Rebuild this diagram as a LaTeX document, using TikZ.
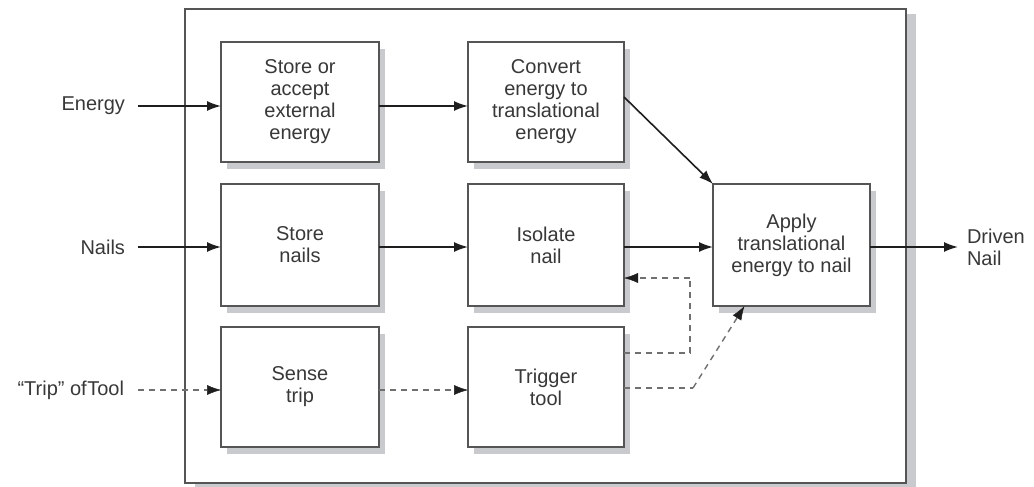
\documentclass[tikz,border=0pt]{standalone}
\usepackage{fontspec}
\setmainfont{Liberation Sans}
\usetikzlibrary{arrows.meta,shadows,calc}
\definecolor{boxline}{HTML}{555555}
\definecolor{shade}{HTML}{C9CACD}
\definecolor{inkc}{HTML}{1E1E1E}
\definecolor{dashc}{HTML}{707070}
\tikzset{
  stepbox/.style={draw=boxline, line width=1.5pt, fill=white, inner sep=0pt, outer sep=0pt,
    align=center, font=\fontsize{20}{22}\selectfont, text=black!78,
    drop shadow={shadow xshift=6pt, shadow yshift=-7pt, fill=shade, opacity=1}},
  lbl/.style={inner sep=0pt, outer sep=0pt, font=\fontsize{20}{22}\selectfont, text=black!78, align=left},
  arr/.style={draw=inkc, line width=1.6pt, -{Latex[length=14pt,width=10pt]}},
  darr/.style={draw=dashc, line width=1.4pt, dash pattern=on 6pt off 5pt, -{Latex[length=14pt,width=10pt,color=inkc,line width=0.5pt]}},
  dline/.style={draw=dashc, line width=1.4pt, dash pattern=on 6pt off 5pt},
}
\begin{document}
\begin{tikzpicture}[x=1pt,y=-1pt]
\useasboundingbox (0,0) rectangle (1034,487);
% outer frame
\node[draw=boxline, line width=1.7pt, fill=white, inner sep=0pt, minimum width=721pt, minimum height=474pt,
  general shadow={shadow xshift=10pt, shadow yshift=-5pt, fill=shade, opacity=1}] (frame) at (545.5,246) {};
% boxes
\node[stepbox, minimum width=158pt, minimum height=120pt] (b1) at (300,102) {Store or\\accept\\external\\energy};
\node[stepbox, minimum width=156pt, minimum height=120pt] (b2) at (546,102) {Convert\\energy to\\translational\\energy};
\node[stepbox, minimum width=158pt, minimum height=122pt] (b3) at (300,245) {Store\\nails};
\node[stepbox, minimum width=156pt, minimum height=122pt] (b4) at (546,245) {Isolate\\nail};
\node[stepbox, minimum width=157pt, minimum height=122pt] (b5) at (791.5,245) {Apply\\translational\\energy to nail};
\node[stepbox, minimum width=158pt, minimum height=120pt] (b6) at (300,387) {Sense\\trip};
\node[stepbox, minimum width=156pt, minimum height=120pt] (b7) at (546,387) {Trigger\\tool};
% outside labels
\node[lbl, anchor=east] (energy) at (125,106) {Energy};
\node[lbl, anchor=east] (nails) at (125,247) {Nails};
\node[lbl, anchor=east] (trip) at (124,390) {\char"201CTrip\char"201D{} of\kern0.5pt Tool};
\node[lbl, anchor=west] (driven) at (967,247) {Driven\\Nail};
% coordinates for bends
\coordinate (fb1) at (690,353);
\coordinate (fb2) at (690,278);
\coordinate (fc1) at (693,388);
% solid connectors
\draw[arr] ([xshift=13pt]energy.east) -- (energy.east -| b1.west);
\draw[arr] (b1.east |- energy.east) -- (energy.east -| b2.west);
\draw[arr] ([xshift=13pt]nails.east) -- (nails.east -| b3.west);
\draw[arr] (b3.east |- nails.east) -- (nails.east -| b4.west);
\draw[arr] (b4.east |- nails.east) -- (nails.east -| b5.west);
\draw[arr] (b5.east |- nails.east) -- ([xshift=-9pt]driven.west);
\draw[arr] ($(b2.east)+(0,-5)$) -- (b5.north west);
% dashed connectors
\draw[darr] ([xshift=14pt]trip.east) -- (trip.east -| b6.west);
\draw[darr] (b6.east |- trip.east) -- (trip.east -| b7.west);
\draw[dline] (b7.east |- fb1) -- (fb1) -- (fb2);
\draw[darr] (fb2) -- (b4.east |- fb2);
\draw[dline] (b7.east |- fc1) -- (fc1);
\draw[darr] (fc1) -- ($(b5.south)+(-47,0)$);
\end{tikzpicture}
\end{document}
